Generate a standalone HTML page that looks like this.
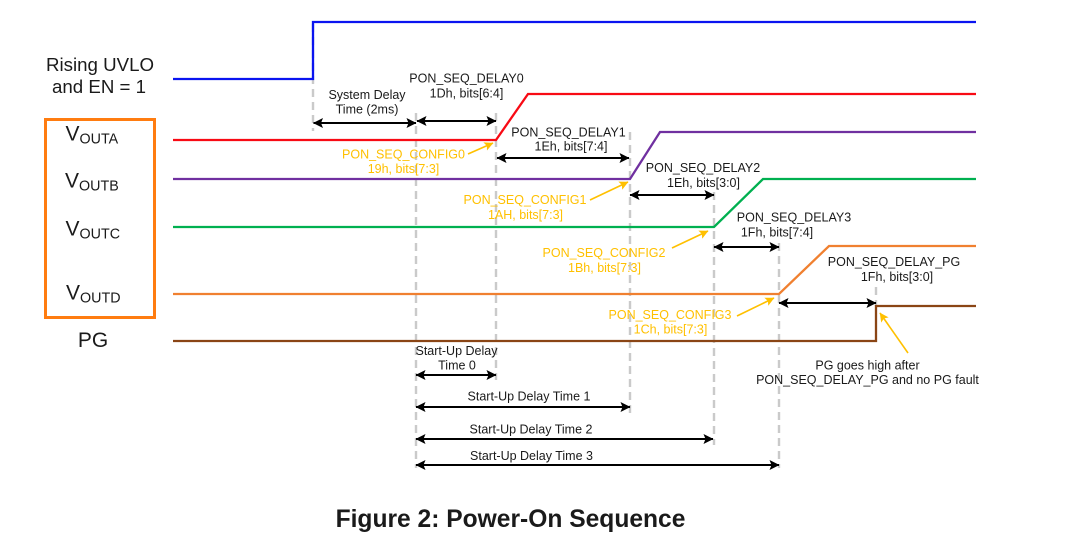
<!DOCTYPE html>
<html>
<head>
<meta charset="utf-8">
<style>
html,body{margin:0;padding:0;background:#fff;}
svg{display:block;filter:blur(0.35px);}
text{font-family:"Liberation Sans",Arial,sans-serif;fill:#1a1a1a;}
.t{font-size:12.500px;text-anchor:middle;}
.y{font-size:12.500px;text-anchor:middle;fill:#ffc000;}
.l{font-size:18.700px;}
.v{font-size:21px;}
.s{font-size:14.300px;}
.d{stroke:#cacaca;stroke-width:2.400;stroke-dasharray:8 5;fill:none;}
.w{fill:none;stroke-width:2.300;}
.a{stroke:#000;stroke-width:2;fill:none;}
.ya{stroke:#ffc000;stroke-width:1.600;fill:none;}
</style>
</head>
<body>
<svg width="1080" height="549" viewBox="0 0 1080 549" xmlns="http://www.w3.org/2000/svg">
<defs>
<marker id="ah" viewBox="0 0 10 10" refX="9.500" refY="5" markerWidth="11" markerHeight="10" markerUnits="userSpaceOnUse" orient="auto-start-reverse"><path d="M0,0 L10,5 L0,10 L2,5 Z" fill="#000"/></marker>
<marker id="ay" viewBox="0 0 10 10" refX="9.500" refY="5" markerWidth="12" markerHeight="9" markerUnits="userSpaceOnUse" orient="auto"><path d="M0,0 L10,5 L0,10 L2,5 Z" fill="#ffc000"/></marker>
</defs>

<!-- dashed guides -->
<path class="d" d="M313 24V131"/>
<path class="d" d="M416 113V468"/>
<path class="d" d="M496 113V380"/>
<path class="d" d="M630 132V413"/>
<path class="d" d="M714 192V445"/>
<path class="d" d="M779 243V468"/>
<path class="d" d="M876 287V306"/>

<!-- waveforms -->
<path class="w" stroke="#0a14f0" d="M173 79H313V22H976"/>
<path class="w" stroke="#f80a14" d="M173 140H496L528 94H976"/>
<path class="w" stroke="#7030a0" d="M173 179H630L660 132H976"/>
<path class="w" stroke="#00b050" d="M173 227H714L763 179H976"/>
<path class="w" stroke="#f08030" d="M173 294H779L829 246H976"/>
<path class="w" stroke="#8a4515" d="M173 341H876V306H976"/>

<!-- delay arrows -->
<path class="a" marker-start="url(#ah)" marker-end="url(#ah)" d="M313.500 123H416"/>
<path class="a" marker-start="url(#ah)" marker-end="url(#ah)" d="M417 121H496"/>
<path class="a" marker-start="url(#ah)" marker-end="url(#ah)" d="M497 158H629"/>
<path class="a" marker-start="url(#ah)" marker-end="url(#ah)" d="M630 195H714"/>
<path class="a" marker-start="url(#ah)" marker-end="url(#ah)" d="M714 247H779"/>
<path class="a" marker-start="url(#ah)" marker-end="url(#ah)" d="M779 303H876"/>
<path class="a" marker-start="url(#ah)" marker-end="url(#ah)" d="M416 375H496"/>
<path class="a" marker-start="url(#ah)" marker-end="url(#ah)" d="M416 407H630"/>
<path class="a" marker-start="url(#ah)" marker-end="url(#ah)" d="M416 439H713"/>
<path class="a" marker-start="url(#ah)" marker-end="url(#ah)" d="M416 465H779"/>

<!-- yellow pointers -->
<path class="ya" marker-end="url(#ay)" d="M468 154L493 143"/>
<path class="ya" marker-end="url(#ay)" d="M590 200L628 182"/>
<path class="ya" marker-end="url(#ay)" d="M672 248L708 231"/>
<path class="ya" marker-end="url(#ay)" d="M737 316L774 298"/>
<path class="ya" marker-end="url(#ay)" d="M908 353L880 313"/>

<!-- left box -->
<rect x="45.500" y="119.500" width="109" height="198" fill="none" stroke="#ff7c10" stroke-width="3"/>

<text class="l" x="100" y="71" text-anchor="middle">Rising UVLO</text>
<text class="l" x="99" y="93" text-anchor="middle">and EN = 1</text>
<text class="v" x="65.500" y="140.500">V<tspan class="s" dy="3">OUTA</tspan></text>
<text class="v" x="65" y="187.500">V<tspan class="s" dy="3">OUTB</tspan></text>
<text class="v" x="65.500" y="235.500">V<tspan class="s" dy="3">OUTC</tspan></text>
<text class="v" x="66" y="299.500">V<tspan class="s" dy="3">OUTD</tspan></text>
<text class="v" x="93" y="347" text-anchor="middle">PG</text>

<!-- labels -->
<text class="t" x="367" y="99">System Delay</text>
<text class="t" x="367" y="113.500">Time (2ms)</text>
<text class="t" x="466.500" y="82.500">PON_SEQ_DELAY0</text>
<text class="t" x="466.500" y="97.500">1Dh, bits[6:4]</text>
<text class="t" x="568.500" y="136.500">PON_SEQ_DELAY1</text>
<text class="t" x="571" y="150.500">1Eh, bits[7:4]</text>
<text class="t" x="703" y="172">PON_SEQ_DELAY2</text>
<text class="t" x="703.500" y="187">1Eh, bits[3:0]</text>
<text class="t" x="794" y="221.500">PON_SEQ_DELAY3</text>
<text class="t" x="777" y="236.500">1Fh, bits[7:4]</text>
<text class="t" x="894" y="266">PON_SEQ_DELAY_PG</text>
<text class="t" x="897" y="281">1Fh, bits[3:0]</text>

<text class="y" x="403.500" y="158.500">PON_SEQ_CONFIG0</text>
<text class="y" x="403.500" y="173">19h, bits[7:3]</text>
<text class="y" x="525" y="204">PON_SEQ_CONFIG1</text>
<text class="y" x="525.500" y="219">1AH, bits[7:3]</text>
<text class="y" x="604" y="257">PON_SEQ_CONFIG2</text>
<text class="y" x="604.500" y="272">1Bh, bits[7:3]</text>
<text class="y" x="670" y="319">PON_SEQ_CONFIG3</text>
<text class="y" x="670.500" y="333.500">1Ch, bits[7:3]</text>

<text class="t" x="456.500" y="355">Start-Up Delay</text>
<text class="t" x="457" y="369.500">Time 0</text>
<text class="t" x="529" y="400.500">Start-Up Delay Time 1</text>
<text class="t" x="531" y="433.500">Start-Up Delay Time 2</text>
<text class="t" x="531.500" y="460">Start-Up Delay Time 3</text>
<text class="t" x="867.500" y="369.500">PG goes high after</text>
<text class="t" x="867.500" y="384">PON_SEQ_DELAY_PG and no PG fault</text>

<text x="510.500" y="527" text-anchor="middle" style="font-size:24.600px;font-weight:bold">Figure 2: Power-On Sequence</text>
</svg>
</body>
</html>
